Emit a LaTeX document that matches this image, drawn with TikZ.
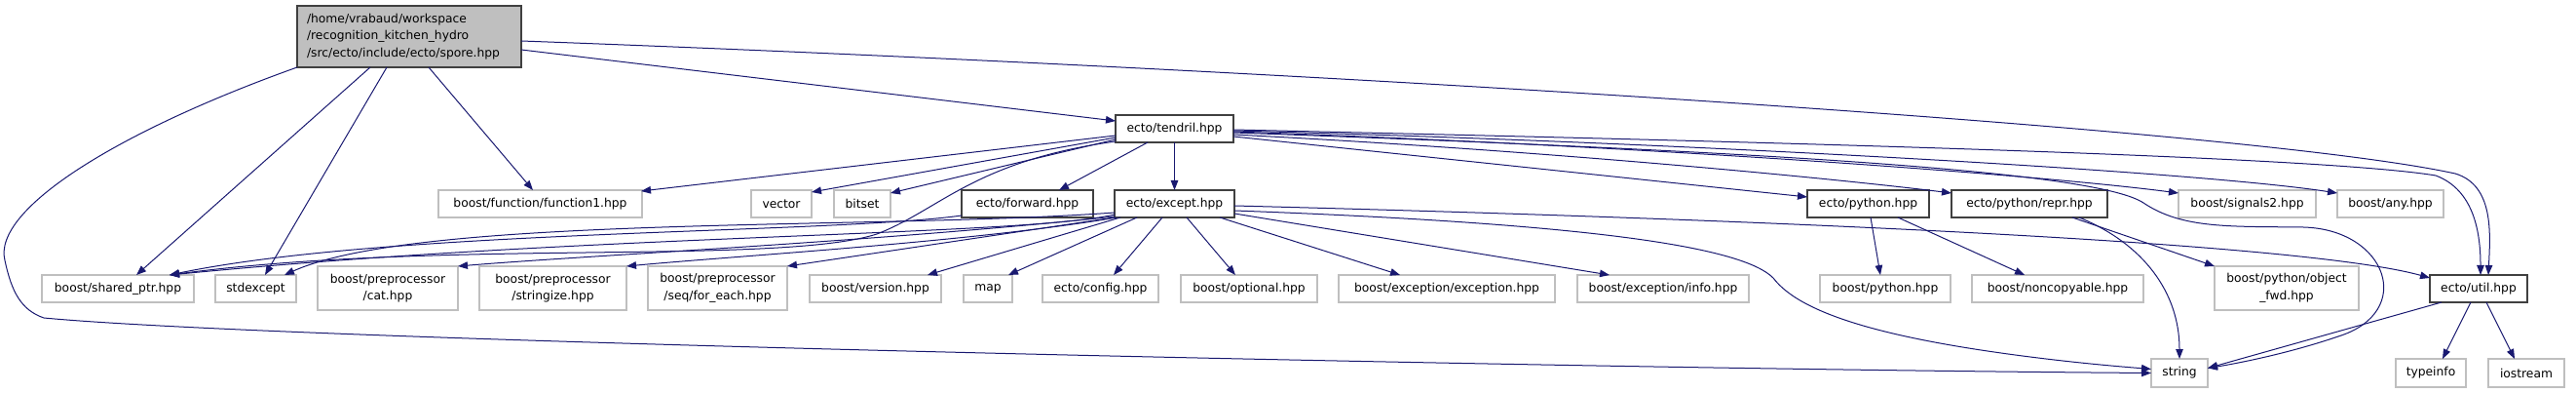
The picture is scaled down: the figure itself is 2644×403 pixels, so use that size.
\documentclass[tikz,border=0pt]{standalone}
\usepackage{fontspec}
\setmainfont{DejaVu Sans}
\usetikzlibrary{arrows.meta,calc}
\definecolor{edgec}{RGB}{25,25,112}
\definecolor{gbord}{RGB}{191,191,191}
\definecolor{dbord}{RGB}{64,64,64}
\definecolor{sporefill}{RGB}{191,191,191}
\begin{document}
\begin{tikzpicture}[x=1pt,y=-1pt,
  every node/.style={font=\fontsize{12.3}{17.5}\selectfont, inner sep=0pt, outer sep=0pt},
  gbox/.style={draw=gbord, fill=white, line width=1.3pt, minimum height=28pt},
  gbox2/.style={gbox, minimum height=45pt, align=center},
  bbox/.style={draw=dbord, fill=white, line width=1.6pt, minimum height=28pt},
  e/.style={draw=edgec, line width=1pt, -{Triangle[length=10pt,width=7.5pt]}},
]
\useasboundingbox (0,0) rectangle (2644,403);
% nodes
\node[draw=dbord, fill=sporefill, line width=1.6pt, minimum width=230pt, minimum height=63pt, align=left, text width=210pt] (sp) at (420,37.5) {/home/vrabaud/workspace\\/recognition\_kitchen\_hydro\\/src/ecto/include/ecto/spore.hpp};
\node[bbox, minimum width=121pt] (td) at (1205.5,132) {ecto/tendril.hpp};
\node[gbox, minimum width=209pt] (f1) at (554.5,209) {boost/function/function1.hpp};
\node[gbox, minimum width=62pt] (vec) at (802,209) {vector};
\node[gbox, minimum width=58pt] (bs) at (885,209) {bitset};
\node[bbox, minimum width=135pt] (fw) at (1054.5,209) {ecto/forward.hpp};
\node[bbox, minimum width=123pt] (ex) at (1205.5,209) {ecto/except.hpp};
\node[bbox, minimum width=125pt] (py) at (1917.5,209) {ecto/python.hpp};
\node[bbox, minimum width=160pt] (rp) at (2083,209) {ecto/python/repr.hpp};
\node[gbox, minimum width=141pt] (sg) at (2306.5,209) {boost/signals2.hpp};
\node[gbox, minimum width=109pt] (an) at (2453.5,209) {boost/any.hpp};
\node[gbox, minimum width=156pt] (sh) at (121,296) {boost/shared\_ptr.hpp};
\node[gbox, minimum width=83pt] (se) at (262.5,296) {stdexcept};
\node[gbox2, minimum width=144pt] (cat) at (398,295.5) {boost/preprocessor\\/cat.hpp};
\node[gbox2, minimum width=151pt] (stz) at (567.5,295.5) {boost/preprocessor\\/stringize.hpp};
\node[gbox2, minimum width=143pt] (seq) at (736.5,295.5) {boost/preprocessor\\/seq/for\_each.hpp};
\node[gbox, minimum width=135pt] (ver) at (898.5,296) {boost/version.hpp};
\node[gbox, minimum width=50pt] (map) at (1014,296) {map};
\node[gbox, minimum width=119pt] (cfg) at (1129.5,296) {ecto/config.hpp};
\node[gbox, minimum width=140pt] (opt) at (1282,296) {boost/optional.hpp};
\node[gbox, minimum width=222pt] (exc) at (1485,296) {boost/exception/exception.hpp};
\node[gbox, minimum width=176pt] (inf) at (1707,296) {boost/exception/info.hpp};
\node[gbox, minimum width=134pt] (bp) at (1935,296) {boost/python.hpp};
\node[gbox, minimum width=176pt] (nc) at (2112,296) {boost/noncopyable.hpp};
\node[gbox2, minimum width=148pt] (of) at (2347,295.5) {boost/python/object\\\_fwd.hpp};
\node[bbox, minimum width=100pt] (ut) at (2544,296) {ecto/util.hpp};
\node[gbox, minimum width=58pt, minimum height=29pt] (str) at (2237,382.5) {string};
\node[gbox, minimum width=72pt, minimum height=29pt] (ti) at (2495,382.5) {typeinfo};
\node[gbox, minimum width=78pt, minimum height=29pt] (io) at (2593,382.5) {iostream};
% edges from spore
\draw[e] (sp.south west) .. controls (120,135) and (-8,215) .. (5,267) .. controls (12,300) and (22,318) .. (45,326) .. controls (300,350) and (1600,378) .. (str.west);
\draw[e] ($(sp.south west)+(75,0)$) -- ($(sh.north west)+(97,0)$);
\draw[e] ($(sp.south west)+(92,0)$) -- ($(se.north west)+(51,0)$);
\draw[e] ($(sp.south west)+(135,0)$) -- ($(f1.north west)+(97,0)$);
\draw[e] ($(sp.east)+(0,13.5)$) -- ($(td.west)+(0,-8)$);
\draw[e] ($(sp.east)+(0,4.5)$) .. controls (1300,70) and (2300,130) .. (2520,178) .. controls (2560,190) and (2556,240) .. ($(ut.north)+(10,0)$);
% edges from tendril
\draw[e] ($(td.west)+(0,7)$) -- ($(f1.north east)+(-1,1)$);
\draw[e] ($(td.west)+(0,9)$) -- ($(vec.north east)+(0,2)$);
\draw[e] ($(td.west)+(0,11)$) -- ($(bs.north east)+(0,3)$);
\draw[e] ($(td.south west)+(0,-1)$) .. controls (1000,165) and (965,215) .. (900,240) .. controls (800,272) and (450,245) .. ($(sh.north east)+(-25,0)$);
\draw[e] ($(td.south west)+(33,0)$) -- ($(fw.north east)+(-35,0)$);
\draw[e] (td) -- (ex);
\draw[e] ($(td.east)+(0,8)$) -- ($(py.west)+(0,-7)$);
\draw[e] ($(td.east)+(0,6)$) .. controls (1600,155) and (1900,185) .. ($(rp.north west)+(0,3)$);
\draw[e] ($(td.east)+(0,3)$) .. controls (1700,150) and (2100,180) .. ($(sg.north west)+(0,3)$);
\draw[e] ($(td.east)+(0,2)$) .. controls (1700,145) and (2250,175) .. ($(an.north west)+(0,3)$);
\draw[e] ($(td.east)+(0,1)$) .. controls (1800,145) and (2380,160) .. (2500,180) .. controls (2540,195) and (2546,240) .. ($(ut.north)+(2,0)$);
\draw[e] ($(td.east)+(0,4)$) .. controls (1800,155) and (2150,175) .. (2200,208) .. controls (2240,235) and (2290,232) .. (2364,233) .. controls (2450,235) and (2480,320) .. (2400,345) .. controls (2350,362) and (2300,372) .. ($(str.east)+(0,-5)$);
% edges from except
\draw[e] ($(ex.south west)+(0,-3)$) .. controls (1050,242) and (600,240) .. ($(sh.north east)+(-25,0)$);
\draw[e] ($(ex.south west)+(0,-5)$) .. controls (900,236) and (430,220) .. ($(se.north east)+(-12,0)$);
\draw[e] ($(ex.south west)+(0,-1)$) .. controls (900,248) and (600,262) .. (cat.north east);
\draw[e] ($(ex.south west)+(2,0)$) .. controls (1000,248) and (760,262) .. (stz.north east);
\draw[e] (ex.south west) -- (seq.north east);
\draw[e] ($(ex.south west)+(6,0)$) -- ($(ver.north east)+(-14,0)$);
\draw[e] ($(ex.south west)+(23,0)$) -- ($(map.north east)+(-4,0)$);
\draw[e] ($(ex.south west)+(49,0)$) -- ($(cfg.north)+(13.5,0)$);
\draw[e] ($(ex.south west)+(74,0)$) -- ($(opt.north west)+(56,0)$);
\draw[e] ($(ex.south west)+(108,0)$) -- ($(exc.north west)+(63,0)$);
\draw[e] ($(ex.east)+(0,10)$) -- ($(inf.north west)+(33,0)$);
\draw[e] ($(ex.east)+(0,2)$) .. controls (1700,222) and (2350,245) .. ($(ut.north west)+(0,3)$);
\draw[e] ($(ex.east)+(0,7)$) .. controls (1650,230) and (1790,255) .. (1820,285) .. controls (1850,325) and (1950,350) .. (2100,368) .. controls (2150,374) and (2190,377) .. ($(str.west)+(0,-4)$);
% other edges
\draw[e] ($(fw.south west)+(0,-2)$) .. controls (850,240) and (400,235) .. ($(sh.north east)+(-25,0)$);
\draw[e] ($(py.south)+(2.5,0)$) -- ($(bp.north)+(-5,0)$);
\draw[e] ($(py.south)+(30.5,0)$) -- ($(nc.north)+(-34,0)$);
\draw[e] ($(rp.south)+(44,0)$) -- (of.north west);
\draw[e] ($(rp.south)+(51,0)$) .. controls (2200,250) and (2237,300) .. (str.north);
\draw[e] ($(ut.south west)+(12,0)$) -- ($(str.east)+(0,-5)$);
\draw[e] ($(ut.south)+(-8,0)$) -- ($(ti.north)+(12,0)$);
\draw[e] ($(ut.south)+(8,0)$) -- ($(io.north)+(-12,0)$);
\end{tikzpicture}
\end{document}
